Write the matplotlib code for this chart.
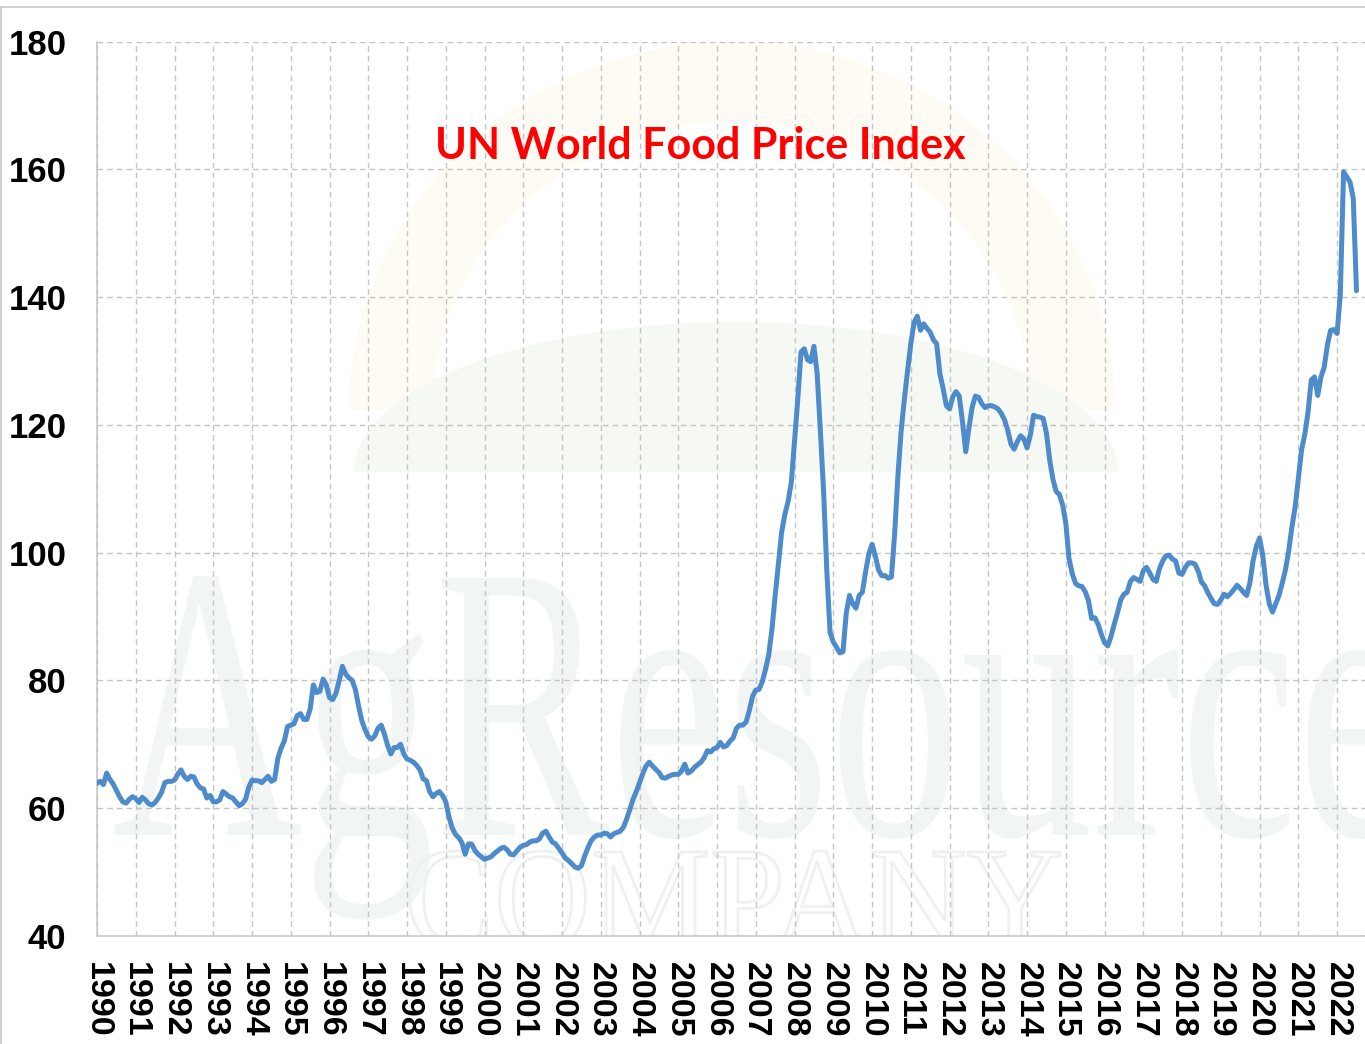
import matplotlib
matplotlib.use('Agg')
import matplotlib.pyplot as plt
import numpy as np
from matplotlib.patches import Wedge, PathPatch
from matplotlib.textpath import TextPath
from matplotlib.font_manager import FontProperties
from matplotlib.transforms import Affine2D
from matplotlib.lines import Line2D

# ---------------- data (monthly index values) ----------------
title = "UN World Food Price Index"
start_year = 1990
y1990 = [63.9, 64.2, 63.7, 65.5, 64.5, 63.8, 62.8, 61.8, 61.0, 60.8, 61.4, 61.8]
y1991 = [61.5, 60.9, 61.7, 61.3, 60.7, 60.5, 60.9, 61.6, 62.5, 64.0, 64.2, 64.2]
y1992 = [64.4, 65.3, 66.0, 65.0, 64.5, 65.0, 64.9, 63.8, 63.2, 63.0, 61.6, 62.0]
y1993 = [61.0, 61.0, 61.3, 62.6, 62.2, 61.8, 61.6, 61.0, 60.4, 60.7, 61.4, 63.3]
y1994 = [64.4, 64.3, 64.3, 64.0, 64.5, 65.0, 64.2, 64.5, 67.8, 69.4, 70.5, 72.8]
y1995 = [73.0, 73.2, 74.5, 74.8, 73.9, 73.9, 75.5, 79.3, 78.1, 78.3, 80.2, 79.3]
y1996 = [77.3, 77.0, 78.0, 80.0, 82.2, 81.0, 80.4, 80.0, 78.6, 76.0, 73.7, 72.3]
y1997 = [71.2, 70.8, 71.3, 72.5, 73.0, 71.6, 69.8, 68.5, 69.5, 69.5, 70.0, 68.5]
y1998 = [67.7, 67.5, 67.2, 66.7, 66.0, 64.6, 64.3, 62.6, 61.8, 62.3, 62.6, 62.0]
y1999 = [61.0, 58.6, 56.9, 55.9, 55.4, 54.6, 52.8, 54.4, 54.4, 53.4, 52.8, 52.4]
y2000 = [52.0, 52.2, 52.4, 52.9, 53.3, 53.7, 53.9, 53.5, 52.8, 52.7, 53.3, 53.9]
y2001 = [54.2, 54.3, 54.7, 54.9, 54.9, 55.2, 56.1, 56.4, 55.5, 54.7, 54.4, 53.7]
y2002 = [53.0, 52.2, 51.8, 51.3, 50.8, 50.6, 51.0, 52.5, 53.8, 54.9, 55.5, 55.8]
y2003 = [55.8, 56.1, 56.0, 55.5, 56.0, 56.2, 56.4, 57.0, 58.3, 59.8, 61.4, 62.6]
y2004 = [64.0, 65.4, 66.6, 67.2, 66.6, 66.1, 65.6, 64.8, 64.7, 65.0, 65.2, 65.3]
y2005 = [65.3, 65.8, 66.9, 65.5, 65.8, 66.4, 66.8, 67.2, 67.9, 69.0, 68.8, 69.3]
y2006 = [69.5, 70.3, 69.6, 69.8, 70.5, 71.0, 72.5, 73.0, 73.0, 73.5, 75.3, 77.5]
y2007 = [78.5, 78.6, 79.8, 81.7, 84.0, 88.0, 93.3, 98.2, 103.2, 106.0, 108.0, 111.0]
y2008 = [117.6, 124.0, 131.4, 131.9, 130.2, 129.9, 132.3, 128.0, 119.0, 109.5, 97.0, 87.5]
y2009 = [86.0, 85.2, 84.3, 84.5, 90.5, 93.3, 92.0, 91.3, 93.3, 93.8, 97.0, 99.8]
y2010 = [101.3, 99.5, 97.3, 96.4, 96.4, 96.0, 96.2, 103.0, 112.0, 119.0, 124.0, 128.5]
y2011 = [132.7, 136.0, 137.0, 134.8, 135.8, 135.1, 134.5, 133.3, 132.7, 128.0, 125.7, 123.0]
y2012 = [122.5, 124.4, 125.2, 124.5, 120.5, 115.8, 119.5, 122.8, 124.5, 124.3, 123.3, 122.7]
y2013 = [123.0, 123.0, 122.8, 122.5, 121.8, 120.8, 119.2, 117.0, 116.2, 117.4, 118.3, 117.8]
y2014 = [116.4, 118.4, 121.5, 121.3, 121.2, 121.0, 118.7, 114.5, 111.5, 109.6, 109.1, 107.5]
y2015 = [104.6, 99.0, 96.7, 95.2, 94.8, 94.7, 93.9, 92.5, 89.7, 89.8, 88.8, 87.2]
y2016 = [85.9, 85.4, 86.9, 88.8, 90.6, 92.6, 93.5, 93.8, 95.5, 96.1, 95.8, 95.5]
y2017 = [97.2, 97.7, 96.8, 95.8, 95.5, 97.5, 98.7, 99.5, 99.6, 99.0, 98.7, 96.8]
y2018 = [96.6, 97.7, 98.4, 98.4, 98.2, 97.1, 95.4, 94.8, 93.7, 92.8, 92.0, 91.9]
y2019 = [92.6, 93.5, 93.1, 93.6, 94.2, 94.9, 94.4, 93.8, 93.3, 95.3, 98.8, 101.0]
y2020 = [102.3, 99.5, 94.9, 92.0, 90.7, 92.0, 93.3, 95.2, 97.3, 100.2, 104.0, 107.1]
y2021 = [111.6, 116.1, 118.5, 122.0, 127.0, 127.5, 124.6, 127.5, 129.0, 132.5, 134.8, 134.9]
y2022 = [134.3, 140.5, 159.6, 158.8, 158.0, 155.5, 141.0]

years = list(range(1990, 2023))
year_labels = [str(y) for y in years]
y_ticks = [40, 60, 80, 100, 120, 140, 160, 180]

values = np.array(y1990 + y1991 + y1992 + y1993 + y1994 + y1995 + y1996 + y1997 +
                  y1998 + y1999 + y2000 + y2001 + y2002 + y2003 + y2004 + y2005 +
                  y2006 + y2007 + y2008 + y2009 + y2010 + y2011 + y2012 + y2013 +
                  y2014 + y2015 + y2016 + y2017 + y2018 + y2019 + y2020 + y2021 + y2022)
dates = start_year + np.arange(len(values)) / 12.0

# ---------------- figure ----------------
W, H = 1365, 1044
fig = plt.figure(figsize=(W / 100, H / 100), dpi=100)
fig.patch.set_facecolor('white')
ax = fig.add_axes([97 / W, 1 - 936 / H, 1 - 97 / W, (936 - 41.5) / H])
ax.set_facecolor('white')

px2fig = Affine2D().scale(1 / W, 1 / H) + fig.transFigure

# faint background logo (sun arc + dome)
ring = Wedge((0, 0), 1.0, 0, 180, width=0.22, facecolor='#fefbf4', edgecolor='none',
             transform=Affine2D().scale(383, 368).translate(732, H - 410) + px2fig, zorder=0)
ax.add_patch(ring)
dome = Wedge((0, 0), 1.0, 0, 180, facecolor='#f6f8f4', edgecolor='none',
             transform=Affine2D().scale(382, 150).translate(736, H - 472) + px2fig, zorder=0)
ax.add_patch(dome)

def text_patch(s, fam, left, right, cap_top, base, **kw):
    tp = TextPath((0, 0), s, size=100, prop=FontProperties(family=fam))
    ext = tp.get_extents()
    cap = TextPath((0, 0), 'H', size=100, prop=FontProperties(family=fam)).get_extents().height
    sx = (right - left) / ext.width
    sy = (base - cap_top) / cap
    tr = Affine2D().translate(-ext.x0, 0).scale(sx, sy).translate(left, H - base) + px2fig
    p = PathPatch(tp, transform=tr, zorder=0, **kw)
    ax.add_patch(p)

text_patch('AgResource', 'Liberation Serif', 115, 1405, 578, 835,
           facecolor='#f1f5f4', edgecolor='none')
text_patch('COMPANY', 'Liberation Serif', 410, 1060, 852, 945,
           facecolor='none', edgecolor='#edf2f0', lw=2.0)

# data line
ax.plot(dates, values, color='#4d8bcb', lw=3.6, solid_joinstyle='round',
        solid_capstyle='round', zorder=5)

ax.set_xlim(1990, 2022.72)
ax.set_ylim(40, 180)
ax.set_xticks(years)
ax.set_xticklabels(year_labels, rotation=-90, fontsize=24.5, fontweight='bold',
                   family=['Liberation Sans', 'DejaVu Sans'])
ax.set_yticks(y_ticks)
ax.set_yticklabels([str(v) for v in y_ticks], fontsize=25, fontweight='bold',
                   family=['Liberation Sans', 'DejaVu Sans'])
ax.tick_params(axis='x', length=0, pad=19, colors='black')
ax.tick_params(axis='y', length=0, pad=22, colors='black')

ax.grid(True, color='#c4c4c4', linestyle=(0, (4, 3)), lw=1.0, zorder=1)
ax.set_axisbelow(True)
for side in ['top', 'right']:
    ax.spines[side].set_visible(False)
for side in ['left', 'bottom']:
    ax.spines[side].set_color('#c8c8c8')
    ax.spines[side].set_linewidth(1.2)

ax.text(0.476, 0.883, title, transform=ax.transAxes, ha='center', va='center',
        color='#ff0000', fontsize=31, fontweight='bold',
        family=['Lato', 'DejaVu Sans'], zorder=6)

# outer frame lines of the original slide
fig.add_artist(Line2D([0, 1], [1 - 6.5 / H, 1 - 6.5 / H], transform=fig.transFigure,
                      color='#c8c8c8', lw=1.2))
fig.add_artist(Line2D([0.7 / W, 0.7 / W], [0, 1 - 6.5 / H], transform=fig.transFigure,
                      color='#c8c8c8', lw=1.2))

fig.savefig('out.png', dpi=100, facecolor='white')
